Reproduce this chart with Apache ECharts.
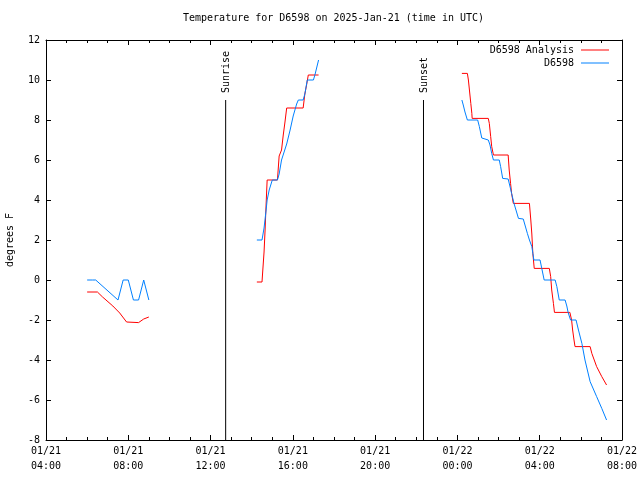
<!DOCTYPE html>
<html>
<head>
<meta charset="utf-8">
<script src="https://cdn.jsdelivr.net/npm/echarts@6/dist/echarts.min.js"></script>
<style>html,body{margin:0;padding:0;background:#fff}#c{width:640px;height:480px}</style>
</head>
<body>
<div id="c"></div>
<script>
// ---- data ----
const titleText = 'Temperature for D6598 on 2025-Jan-21 (time in UTC)';
const yName = 'degrees F';
const xStart = '01/21 04:00';
const xEnd = '01/22 08:00';
const xTickHours = 4;
const yMin = -8, yMax = 12, yStep = 2;

// D6598 Analysis (red); null = gap
const anaTimes = [
  '01/21 06:00','01/21 06:30','01/21 06:45','01/21 07:15','01/21 07:35','01/21 07:55','01/21 08:30','01/21 08:45','01/21 09:00',
  null,
  '01/21 14:15','01/21 14:30','01/21 14:32','01/21 14:36','01/21 14:39','01/21 14:42','01/21 14:45','01/21 15:15','01/21 15:20','01/21 15:27','01/21 15:32','01/21 15:37','01/21 15:42','01/21 16:30','01/21 16:35','01/21 16:40','01/21 16:45','01/21 17:15',
  null,
  '01/22 00:13','01/22 00:29','01/22 00:32','01/22 00:35','01/22 00:39','01/22 00:42','01/22 00:43','01/22 01:30','01/22 01:33','01/22 01:37','01/22 01:40','01/22 01:45',
  '01/22 02:28','01/22 02:31','01/22 02:35','01/22 02:38','01/22 02:43','01/22 03:30','01/22 03:34','01/22 03:37','01/22 03:40','01/22 03:44',
  '01/22 04:28','01/22 04:32','01/22 04:35','01/22 04:40','01/22 04:43','01/22 05:28','01/22 05:33','01/22 05:36','01/22 05:40','01/22 05:43',
  '01/22 06:27','01/22 06:32','01/22 06:46','01/22 07:01','01/22 07:15'
];
const anaTemps = [
  -0.6,-0.6,-0.85,-1.3,-1.65,-2.1,-2.13,-1.95,-1.85,
  null,
  -0.1,-0.1,0.4,1.4,2.5,3.8,5.0,5.0,6.2,6.5,7.25,7.9,8.6,8.6,9.3,9.75,10.25,10.25,
  null,
  10.33,10.33,10.0,9.5,8.83,8.33,8.08,8.08,7.83,7.17,6.67,6.25,
  6.25,5.5,4.83,4.33,3.83,3.83,3.0,2.3,1.33,0.58,
  0.58,0.17,-0.5,-1.17,-1.62,-1.62,-2.0,-2.5,-3.0,-3.33,
  -3.33,-3.67,-4.33,-4.83,-5.25
];

// D6598 observations (blue); null = gap
const obsTimes = [
  '01/21 06:00','01/21 06:15','01/21 06:20','01/21 06:25','01/21 06:30','01/21 07:30','01/21 07:45','01/21 08:00','01/21 08:15','01/21 08:30','01/21 08:45','01/21 09:00',
  null,
  '01/21 14:15','01/21 14:30','01/21 14:36','01/21 14:42','01/21 14:45','01/21 14:51','01/21 15:00','01/21 15:15','01/21 15:20','01/21 15:27','01/21 15:42','01/21 15:52','01/21 16:01','01/21 16:11','01/21 16:16','01/21 16:30','01/21 16:35','01/21 16:42','01/21 17:00','01/21 17:05','01/21 17:15',
  null,
  '01/22 00:13','01/22 00:17','01/22 00:22','01/22 00:29','01/22 00:59','01/22 01:04','01/22 01:11','01/22 01:30','01/22 01:35','01/22 01:40','01/22 01:45',
  '01/22 02:02','01/22 02:06','01/22 02:12','01/22 02:28','01/22 02:33','01/22 02:38','01/22 02:45','01/22 02:58','01/22 03:12','01/22 03:17','01/22 03:24','01/22 03:30','01/22 03:37','01/22 03:43',
  '01/22 04:01','01/22 04:06','01/22 04:13','01/22 04:45','01/22 04:50','01/22 04:57','01/22 05:14','01/22 05:19','01/22 05:23','01/22 05:30','01/22 05:46','01/22 05:53',
  '01/22 06:03','01/22 06:12','01/22 06:27','01/22 06:46','01/22 07:01','01/22 07:15'
];
const obsTemps = [
  0.0,0.0,-0.1,0.0,0.0,-1.0,0.0,0.0,-1.0,-1.0,0.0,-1.0,
  null,
  2.0,2.0,2.6,3.5,4.0,4.5,5.0,5.0,5.3,6.0,6.8,7.5,8.2,8.8,9.0,9.0,9.3,10.0,10.0,10.3,11.0,
  null,
  9.0,8.75,8.4,8.0,8.0,7.67,7.1,7.0,6.75,6.33,6.0,
  6.0,5.67,5.08,5.05,4.7,4.33,3.83,3.08,3.05,2.75,2.33,2.0,1.67,1.0,
  1.0,0.58,0.0,0.0,-0.33,-1.0,-1.0,-1.3,-1.63,-2.0,-2.0,-2.5,
  -3.17,-4.0,-5.08,-5.83,-6.42,-7.0
];

const eventNames = ['Sunrise','Sunset'];
const eventTimes = ['01/21 12:44','01/21 22:21'];
const eventLineTop = 9;

// ---- helpers ----
const FONT = 'DejaVu Sans Mono';
function toHours(s){
  const m = s.match(/(\d+)\/(\d+) (\d+):(\d+)/);
  return (+m[2] - 21) * 24 + (+m[3]) + (+m[4]) / 60 - 4;
}
function pairs(times, temps){
  return times.map((t, i) => t === null ? [NaN, NaN] : [toHours(t), temps[i]]);
}
const x0 = toHours(xStart), x1 = toHours(xEnd);
function fmtX(h){
  const tot = h + 4;
  const day = 21 + Math.floor(tot / 24);
  const hr = Math.round(tot % 24);
  return '01/' + day + '\n' + String(hr).padStart(2,'0') + ':00';
}

const eventSeries = eventNames.map((n, i) => {
  const x = toHours(eventTimes[i]);
  return {
    type: 'line', name: n, silent: true, symbol: 'circle', symbolSize: 0, showSymbol: true,
    lineStyle: { color: '#000', width: 1 }, itemStyle: { color: '#000' },
    data: [[x, yMin], { value: [x, eventLineTop],
      label: { show: true, formatter: n, rotate: 90, position: [1, -7], align: 'left', verticalAlign: 'middle',
               fontFamily: FONT, fontSize: 10, color: '#000' } }],
    z: 1
  };
});

const axisCommon = {
  axisLine: { show: true, onZero: false, lineStyle: { color: '#000', width: 1 } },
  splitLine: { show: false }
};

const option = {
  animation: false,
  backgroundColor: '#fff',
  title: { text: titleText, left: 183, top: 13, padding: 0,
    textStyle: { fontFamily: FONT, fontSize: 10, fontWeight: 'normal', color: '#000' } },
  legend: {
    data: [{ name: 'D6598 Analysis', icon: 'rect' }, { name: 'D6598', icon: 'rect' }],
    orient: 'vertical', align: 'right', right: 31, top: 44, padding: 0,
    itemWidth: 28, itemHeight: 1, itemGap: 1,
    textStyle: { fontFamily: FONT, fontSize: 10, color: '#000', lineHeight: 12, padding: [0, 2, 0, 0] }
  },
  grid: { left: 46, right: 18, top: 40, bottom: 40, containLabel: false, outerBoundsMode: 'none' },
  xAxis: [
    Object.assign({}, axisCommon, {
      type: 'value', min: x0, max: x1, interval: xTickHours, position: 'bottom',
      axisTick: { show: true, inside: true, length: 5, lineStyle: { color: '#000' } },
      minorTick: { show: true, splitNumber: 4, length: 3, lineStyle: { color: '#000' } },
      axisLabel: { formatter: fmtX, fontFamily: FONT, fontSize: 10, color: '#000', lineHeight: 15, margin: 4 }
    }),
    Object.assign({}, axisCommon, {
      type: 'value', min: x0, max: x1, interval: xTickHours, position: 'top',
      axisTick: { show: true, inside: true, length: 5, lineStyle: { color: '#000' } },
      minorTick: { show: true, splitNumber: 4, length: 3, lineStyle: { color: '#000' } },
      axisLabel: { show: false }
    })
  ],
  yAxis: [
    Object.assign({}, axisCommon, {
      type: 'value', min: yMin, max: yMax, interval: yStep, position: 'left',
      name: yName, nameLocation: 'middle', nameGap: 31,
      nameTextStyle: { fontFamily: FONT, fontSize: 10, color: '#000' },
      axisTick: { show: true, inside: true, length: 5, lineStyle: { color: '#000' } },
      axisLabel: { fontFamily: FONT, fontSize: 10, color: '#000', margin: 6 }
    }),
    Object.assign({}, axisCommon, {
      type: 'value', min: yMin, max: yMax, interval: yStep, position: 'right',
      axisTick: { show: true, inside: true, length: 5, lineStyle: { color: '#000' } },
      axisLabel: { show: false }
    })
  ],
  series: [
    { type: 'line', name: 'D6598 Analysis', data: pairs(anaTimes, anaTemps), showSymbol: false, symbol: 'none',
      connectNulls: false, color: '#ff0000', lineStyle: { color: '#ff0000', width: 1 }, z: 2 },
    { type: 'line', name: 'D6598', data: pairs(obsTimes, obsTemps), showSymbol: false, symbol: 'none',
      connectNulls: false, color: '#0080ff', lineStyle: { color: '#0080ff', width: 1 }, z: 3 }
  ].concat(eventSeries)
};

const chart = echarts.init(document.getElementById('c'), null, { renderer: 'canvas' });
chart.setOption(option);
</script>
</body>
</html>
